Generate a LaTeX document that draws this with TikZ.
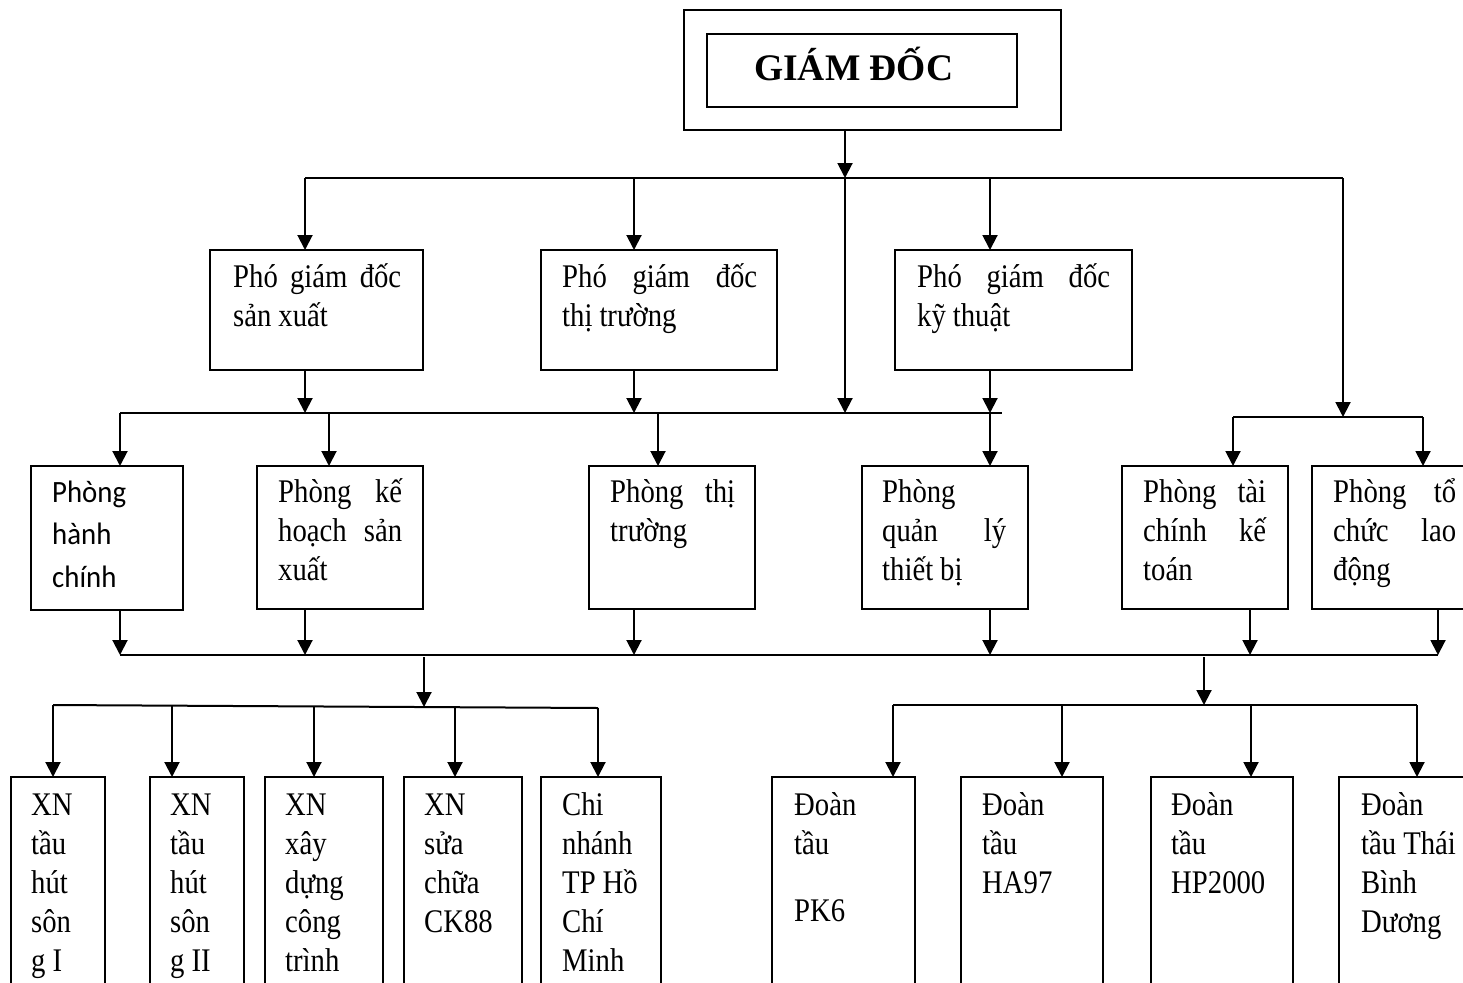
\documentclass[tikz,border=0pt]{standalone}
\usepackage{fontspec}
\setmainfont{Liberation Serif}[FakeStretch=0.87]
\newfontfamily\calfont{Carlito}[FakeStretch=0.93]
\newfontfamily\headfont{Liberation Serif}
\usetikzlibrary{arrows.meta}
% strut that fixes the height of a label's first line
\newcommand\fs{\rule{0pt}{34pt}}
\begin{document}
\begin{tikzpicture}[x=1pt,y=-1pt,
  box/.style={draw, line width=2pt, inner sep=0pt, outer sep=0pt, anchor=north west},
  ln/.style={line width=2pt},
  arr/.style={line width=2pt, -{Triangle[length=15pt,width=15pt]}},
  txt/.style={anchor=north west, inner sep=0pt, align=left, font=\fontsize{33}{39}\selectfont,
    execute at begin node={\spaceskip=7pt\relax}},
  caltxt/.style={anchor=north west, inner sep=0pt, align=left, font=\calfont\fontsize{31}{42.5}\selectfont}]
\clip (0,0) rectangle (1463,982);
\fill[white] (0,0) rectangle (1463,982);

% --- director ---
\node[box, minimum width=377pt, minimum height=120pt] (gdo) at (684,10) {};
\node[box, minimum width=310pt, minimum height=73pt] (gd) at (707,34) {};
\node[anchor=base west, inner sep=0pt, font=\headfont\bfseries\fontsize{37.5}{40}\selectfont] (gdt) at (754,80) {GIÁM ĐỐC};

% --- deputy directors ---
\node[box, minimum width=213pt, minimum height=120pt] (pgd1) at (210,250) {};
\node[txt, text width=168pt] (pgd1t) at (233,253) {\fs Phó\hfill giám\hfill đốc\\sản xuất};
\node[box, minimum width=236pt, minimum height=120pt] (pgd2) at (541,250) {};
\node[txt, text width=195pt] (pgd2t) at (562,253) {\fs Phó\hfill giám\hfill đốc\\thị trường};
\node[box, minimum width=237pt, minimum height=120pt] (pgd3) at (895,250) {};
\node[txt, text width=193pt] (pgd3t) at (917,253) {\fs Phó\hfill giám\hfill đốc\\kỹ thuật};

% --- departments ---
\node[box, minimum width=152pt, minimum height=144pt] (ph1) at (31,466) {};
\node[caltxt, text width=120pt] (ph1t) at (52,468) {\fs Phòng\\hành\\chính};
\node[box, minimum width=166pt, minimum height=143pt] (ph2) at (257,466) {};
\node[txt, text width=124pt] (ph2t) at (278,468) {\fs Phòng\hfill kế\\hoạch\hfill sản\\xuất};
\node[box, minimum width=166pt, minimum height=143pt] (ph3) at (589,466) {};
\node[txt, text width=125pt] (ph3t) at (610,468) {\fs Phòng\hfill thị\\trường};
\node[box, minimum width=166pt, minimum height=143pt] (ph4) at (862,466) {};
\node[txt, text width=124pt] (ph4t) at (882,468) {\fs Phòng\\quản\hfill lý\\thiết bị};
\node[box, minimum width=166pt, minimum height=143pt] (ph5) at (1122,466) {};
\node[txt, text width=123pt] (ph5t) at (1143,468) {\fs Phòng\hfill tài\\chính\hfill kế\\toán};
\node[box, minimum width=166pt, minimum height=143pt] (ph6) at (1312,466) {};
\node[txt, text width=123pt] (ph6t) at (1333,468) {\fs Phòng\hfill tổ\\chức\hfill lao\\động};

% --- enterprises ---
\node[box, minimum width=94pt, minimum height=233pt] (xn1) at (11,777) {};
\node[txt, text width=90pt] (xn1t) at (31,781) {\fs XN\\tầu\\hút\\sôn\\g I};
\node[box, minimum width=94pt, minimum height=233pt] (xn2) at (150,777) {};
\node[txt, text width=90pt] (xn2t) at (170,781) {\fs XN\\tầu\\hút\\sôn\\g II};
\node[box, minimum width=118pt, minimum height=233pt] (xn3) at (265,777) {};
\node[txt, text width=90pt] (xn3t) at (285,781) {\fs XN\\xây\\dựng\\công\\trình};
\node[box, minimum width=118pt, minimum height=233pt] (xn4) at (404,777) {};
\node[txt, text width=90pt] (xn4t) at (424,781) {\fs XN\\sửa\\chữa\\CK88};
\node[box, minimum width=120pt, minimum height=233pt] (xn5) at (541,777) {};
\node[txt, text width=95pt] (xn5t) at (562,781) {\fs Chi\\nhánh\\TP Hồ\\Chí\\Minh};

% --- vessel fleets ---
\node[box, minimum width=143pt, minimum height=233pt] (dt1) at (772,777) {};
\node[txt, text width=110pt] (dt1t) at (794,781) {\fs Đoàn\\tầu\\[28pt]PK6};
\node[box, minimum width=142pt, minimum height=233pt] (dt2) at (961,777) {};
\node[txt, text width=110pt] (dt2t) at (982,781) {\fs Đoàn\\tầu\\HA97};
\node[box, minimum width=142pt, minimum height=233pt] (dt3) at (1151,777) {};
\node[txt, text width=110pt] (dt3t) at (1171,781) {\fs Đoàn\\tầu\\HP2000};
\node[box, minimum width=142pt, minimum height=233pt] (dt4) at (1339,777) {};
\node[txt, text width=120pt] (dt4t) at (1361,781) {\fs Đoàn\\tầu Thái\\Bình\\Dương};

% --- first bus: director to deputies ---
\coordinate (b1l) at (305,178);
\coordinate (b1a) at (634,178);
\coordinate (b1m) at (845,178);
\coordinate (b1b) at (990,178);
\coordinate (b1r) at (1343,178);
\draw[arr] (b1m |- gdo.south) -- (b1m);
\draw[ln] (b1l) -- (b1r);
\draw[arr] (b1l) -- (b1l |- pgd1.north);
\draw[arr] (b1a) -- (b1a |- pgd2.north);
\draw[arr] (b1b) -- (b1b |- pgd3.north);

% --- second bus: deputies to departments ---
\coordinate (b2l) at (120,413);
\coordinate (b2c) at (329,413);
\coordinate (b2d) at (658,413);
\coordinate (b2r) at (1002,413);
\draw[ln] (b2l) -- (b2r);
\draw[arr] (b1m) -- (b1m |- b2l);
\draw[arr] (b1l |- pgd1.south) -- (b1l |- b2l);
\draw[arr] (b1a |- pgd2.south) -- (b1a |- b2l);
\draw[arr] (b1b |- pgd3.south) -- (b1b |- b2l);
\draw[arr] (b2l) -- (b2l |- ph1.north);
\draw[arr] (b2c) -- (b2c |- ph2.north);
\draw[arr] (b2d) -- (b2d |- ph3.north);
\draw[arr] (b1b |- b2l) -- (b1b |- ph4.north);

% --- right branch ---
\coordinate (rl) at (1233,417);
\coordinate (rr) at (1423,417);
\draw[arr] (b1r) -- (b1r |- rl);
\draw[ln] (rl) -- (rr);
\draw[arr] (rl) -- (rl |- ph5.north);
\draw[arr] (rr) -- (rr |- ph6.north);

% --- third bus: departments ---
\coordinate (c1) at (120,655);
\coordinate (c2) at (305,655);
\coordinate (c3) at (634,655);
\coordinate (c4) at (990,655);
\coordinate (c5) at (1250,655);
\coordinate (c6) at (1438,655);
\draw[ln] (c1) -- (c6);
\draw[arr] (c1 |- ph1.south) -- (c1);
\draw[arr] (c2 |- ph2.south) -- (c2);
\draw[arr] (c3 |- ph3.south) -- (c3);
\draw[arr] (c4 |- ph4.south) -- (c4);
\draw[arr] (c5 |- ph5.south) -- (c5);
\draw[arr] (c6 |- ph6.south) -- (c6);

% --- enterprises bus ---
\coordinate (cl) at (424,657);
\coordinate (gm) at (424,707);
\coordinate (g1) at (53,705);
\coordinate (g2) at (172,705.6);
\coordinate (g3) at (314,706.4);
\coordinate (g4) at (455,707.2);
\coordinate (g5) at (598,708);
\draw[arr] (cl) -- (gm);
\draw[ln] (g1) -- (g5);
\draw[arr] (g1) -- (g1 |- xn1.north);
\draw[arr] (g2) -- (g2 |- xn2.north);
\draw[arr] (g3) -- (g3 |- xn3.north);
\draw[arr] (g4) -- (g4 |- xn4.north);
\draw[arr] (g5) -- (g5 |- xn5.north);

% --- fleets bus ---
\coordinate (cr) at (1204,657);
\coordinate (hm) at (1204,705);
\coordinate (h1) at (893,705);
\coordinate (h2) at (1062,705);
\coordinate (h3) at (1251,705);
\coordinate (h4) at (1417,705);
\draw[arr] (cr) -- (hm);
\draw[ln] (h1) -- (h4);
\draw[arr] (h1) -- (h1 |- dt1.north);
\draw[arr] (h2) -- (h2 |- dt2.north);
\draw[arr] (h3) -- (h3 |- dt3.north);
\draw[arr] (h4) -- (h4 |- dt4.north);
\end{tikzpicture}
\end{document}
